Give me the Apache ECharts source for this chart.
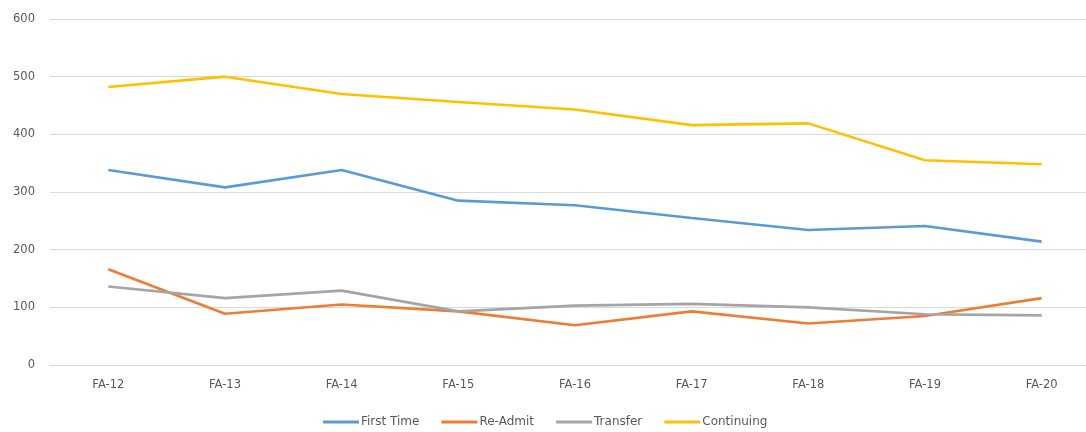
<!DOCTYPE html>
<html>
<head>
<meta charset="utf-8">
<script src="https://cdn.jsdelivr.net/npm/echarts@6/dist/echarts.min.js"></script>
<style>html,body{margin:0;padding:0;background:#fff}#c{width:1086px;height:432px}</style>
</head>
<body>
<div id="c"></div>
<script>
const categories = ['FA-12','FA-13','FA-14','FA-15','FA-16','FA-17','FA-18','FA-19','FA-20'];
const firstTime = [338, 308, 338, 285, 277, 255, 234, 241, 214];
const reAdmit = [166, 89, 105, 93, 69, 93, 72, 85, 116];
const transfer = [136, 116, 129, 93, 103, 106, 100, 88, 86];
const continuing = [482, 500, 470, 456, 443, 416, 419, 355, 348];
const yTicks = [0, 100, 200, 300, 400, 500, 600];

const chart = echarts.init(document.getElementById('c'));
const font = 'DejaVu Sans';
function line(name, data, color) {
  return { name, type: 'line', data, symbol: 'none', smooth: false,
    lineStyle: { color, width: 2.6 }, itemStyle: { color } };
}
chart.setOption({
  animation: false,
  grid: { left: 50, width: 1050, top: 19, bottom: 67, containLabel: false, outerBoundsMode: 'none' },
  legend: {
    left: 318, top: 411, itemWidth: 36, itemHeight: 3, itemGap: 22,
    icon: 'rect',
    textStyle: { color: '#595959', fontSize: 12, fontFamily: font, padding: [0, 0, 0, -3] },
    data: ['First Time', 'Re-Admit', 'Transfer', 'Continuing']
  },
  xAxis: {
    type: 'category', data: categories, boundaryGap: true,
    axisLine: { show: true, lineStyle: { color: '#d9d9d9', width: 1 } },
    axisTick: { show: false },
    axisLabel: { color: '#595959', fontSize: 11.5, fontFamily: font, margin: 14 }
  },
  yAxis: {
    type: 'value', min: yTicks[0], max: yTicks[yTicks.length - 1], interval: 100,
    axisLine: { show: false }, axisTick: { show: false },
    splitLine: { lineStyle: { color: '#d9d9d9', width: 1 } },
    axisLabel: { color: '#595959', fontSize: 11.5, fontFamily: font, margin: 15 }
  },
  series: [
    line('First Time', firstTime, '#5B9BD5'),
    line('Re-Admit', reAdmit, '#ED7D31'),
    line('Transfer', transfer, '#A5A5A5'),
    line('Continuing', continuing, '#FFC000')
  ]
});
</script>
</body>
</html>
